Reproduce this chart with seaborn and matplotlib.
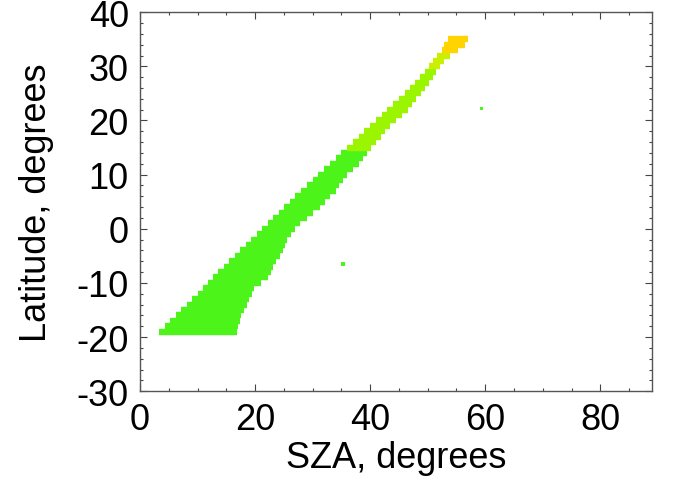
import pandas as pd
import seaborn as sns
import matplotlib.pyplot as plt
from matplotlib.ticker import MultipleLocator

# latitude rows of the swath and its SZA extent at each row
lat_rows = list(range(-19, 36))
sza_left = [3.3, 4.3, 5.3, 6.3, 7.2, 8.1, 9.0, 10.0, 10.9, 11.8,
            12.7, 13.6, 14.6, 15.5, 16.5, 17.4, 18.4, 19.3, 20.3, 21.2,
            22.2, 23.2, 24.1, 25.0, 26.0, 27.0, 28.0, 29.0, 30.0, 31.0,
            32.0, 33.0, 34.0, 35.0, 36.0, 37.0, 38.0, 39.0, 40.0, 41.0,
            42.0, 43.0, 44.0, 45.0, 46.0, 46.9, 47.8, 48.7, 49.5, 50.3,
            51.0, 51.7, 52.4, 52.9, 53.6]
sza_right = [16.9, 17.0, 17.3, 17.6, 18.0, 18.6, 19.0, 19.4, 19.9, 21.0,
             22.2, 22.8, 23.2, 23.7, 24.3, 24.8, 25.2, 25.6, 26.3, 27.0,
             27.8, 29.0, 30.0, 31.2, 32.2, 33.0, 34.0, 34.5, 35.2, 36.0,
             37.0, 38.0, 38.8, 39.5, 40.2, 41.0, 41.8, 42.6, 43.5, 44.5,
             45.5, 46.5, 47.2, 48.0, 48.8, 49.5, 50.2, 50.9, 51.5, 52.2,
             52.8, 53.8, 55.2, 56.5, 57.0]
row_shade = (["green"] * 34 + ["lime"] * 15 + ["yellowgreen"] * 3
             + ["yellow"] * 3)

# isolated points and the orange streaks at the northern tip
stray_sza = [28.3, 26.6, 35.3, 59.3, 54.6, 55.6, 56.2, 53.9]
stray_lat = [6.1, 5.2, -6.5, 22.2, 34.6, 35.0, 34.2, 33.6]
stray_shade = ["yellow", "yellow", "green", "green",
               "orange", "orange", "orange", "orange"]

palette = {"green": "#4cf41a", "lime": "#9cf500", "yellowgreen": "#c8f000",
           "yellow": "#ffd400", "orange": "#ff8a00"}

recs = []
for i, lat in enumerate(lat_rows):
    recs.append((i, sza_left[i], lat, row_shade[i]))
    recs.append((i, sza_right[i], lat, row_shade[i]))
swath = pd.DataFrame(recs, columns=["row", "sza", "lat", "shade"])
stray = pd.DataFrame({"sza": stray_sza, "lat": stray_lat, "shade": stray_shade})

sns.set_style("ticks")
plt.rcParams["font.family"] = ["Liberation Sans", "DejaVu Sans"]
plt.rcParams["axes.unicode_minus"] = False
plt.rcParams["text.color"] = "black"
plt.rcParams["axes.labelcolor"] = "black"
plt.rcParams["xtick.labelcolor"] = "black"
plt.rcParams["ytick.labelcolor"] = "black"

fig = plt.figure(figsize=(6.73, 4.89), dpi=100)
ax = fig.add_axes([0.208, 0.198, 0.761, 0.775])

sns.lineplot(data=swath, x="sza", y="lat", units="row", hue="shade",
             palette=palette, estimator=None, sort=False, legend=False,
             linewidth=4.6, solid_capstyle="butt", ax=ax)
sns.scatterplot(data=stray, x="sza", y="lat", hue="shade", palette=palette,
                s=6, marker="s", linewidth=0, legend=False, ax=ax)

ax.set_xlim(0, 89)
ax.set_ylim(-30, 40)
ax.set_xticks([0, 20, 40, 60, 80])
ax.set_yticks(range(-30, 41, 10))
ax.xaxis.set_minor_locator(MultipleLocator(5))
ax.yaxis.set_minor_locator(MultipleLocator(2))
ax.tick_params(which="both", direction="in", top=True, right=True,
               color="#444444", width=0.8)
ax.tick_params(which="major", length=5, labelsize=26, pad=8)
ax.tick_params(which="minor", length=2.5)
for sp in ax.spines.values():
    sp.set_color("#555555")
    sp.set_linewidth(1.0)

ax.set_xlabel("SZA, degrees", fontsize=26, labelpad=2)
ax.set_ylabel("Latitude, degrees", fontsize=26, labelpad=16)

fig.savefig("out.png", dpi=100)
